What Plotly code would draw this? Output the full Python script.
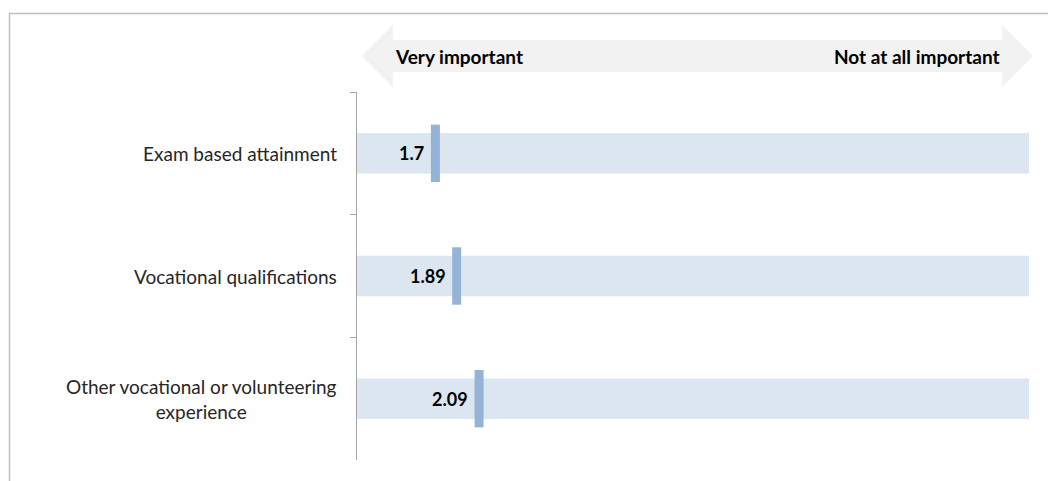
import plotly.graph_objects as go

# Data
categories = ['Exam based attainment', 'Vocational qualifications',
              'Other vocational or volunteering experience']
category_labels = ['Exam based attainment', 'Vocational qualifications',
                   'Other vocational or volunteering<br>experience']
mean_scores = [1.7, 1.89, 2.09]
score_labels = ['1.7', '1.89', '2.09']
scale_min = 1
scale_max = 7
scale_ends = ['Very important', 'Not at all important']

# Layout in pixels (page body has an 8px margin, so screen px = figure px + 8)
OFF = 8
W, H = 1048, 473
L, R, T, B = 357 - OFF, 27, 92 - OFF, 21
FONT = 'Lato'
BAR_COLOR = '#DCE6F1'
MARK_COLOR = '#95B3D7'


def px_x(px):
    # screen pixel -> paper x
    return (px - OFF - L) / (W - L - R)


def px_y(py):
    # screen pixel -> paper y
    return (H - B - (py - OFF)) / (H - T - B)


fig = go.Figure()

# full-length background bars
fig.add_trace(go.Bar(
    y=categories,
    x=[scale_max - scale_min] * len(categories),
    base=scale_min,
    orientation='h',
    width=0.33,
    marker=dict(color=BAR_COLOR, line=dict(width=0)),
    hoverinfo='skip',
    showlegend=False,
))

# mean score markers
fig.add_trace(go.Scatter(
    x=mean_scores,
    y=categories,
    mode='markers',
    marker=dict(symbol='line-ns', size=41, color=MARK_COLOR,
                line=dict(color=MARK_COLOR, width=9)),
    showlegend=False,
))

annotations = []
for cat, val, lab in zip(categories, mean_scores, score_labels):
    annotations.append(dict(
        x=val, y=cat, xref='x', yref='y', text='<b>%s</b>' % lab,
        showarrow=False, xanchor='right', yanchor='middle', xshift=-9,
        font=dict(family=FONT, size=18, color='#000000'),
    ))
for cat, lab in zip(categories, category_labels):
    annotations.append(dict(
        x=0, y=cat, xref='paper', yref='y', text=lab, align='center',
        showarrow=False, xanchor='right', yanchor='middle', xshift=-18,
        font=dict(family=FONT, size=19, color='#262626'),
    ))

# arrow texts
annotations.append(dict(
    x=px_x(393), y=px_y(56), xref='paper', yref='paper', text='<b>%s</b>' % scale_ends[0],
    showarrow=False, xanchor='left', yanchor='middle',
    font=dict(family=FONT, size=19, color='#000000'),
))
annotations.append(dict(
    x=px_x(1002), y=px_y(56), xref='paper', yref='paper', text='<b>%s</b>' % scale_ends[1],
    showarrow=False, xanchor='right', yanchor='middle',
    font=dict(family=FONT, size=19, color='#000000'),
))

# double-headed arrow
pts = [(362, 56), (393, 25), (393, 40), (1002, 40), (1002, 25), (1033, 56),
       (1002, 87), (1002, 72), (393, 72), (393, 87)]
path = 'M ' + ' L '.join('%.5f,%.5f' % (px_x(a), px_y(b)) for a, b in pts) + ' Z'
shapes = [
    dict(type='path', xref='paper', yref='paper', path=path,
         fillcolor='#F2F2F2', line=dict(width=0), layer='below'),
    # outer border (top and left)
    dict(type='path', xref='paper', yref='paper',
         path='M %.5f,%.5f L %.5f,%.5f L %.5f,%.5f' % (
             px_x(9.5), px_y(490), px_x(9.5), px_y(13.5), px_x(1060), px_y(13.5)),
         line=dict(color='#BFBFBF', width=1.5)),
]

fig.update_layout(
    width=W, height=H,
    margin=dict(l=L, r=R, t=T, b=B),
    plot_bgcolor='white', paper_bgcolor='white',
    barmode='overlay',
    xaxis=dict(range=[scale_min, scale_max], visible=False, fixedrange=True),
    yaxis=dict(autorange='reversed', showticklabels=False, showgrid=False,
               zeroline=False, showline=True, linecolor='#A6A6A6', linewidth=1,
               ticks='outside', tickson='boundaries', ticklen=6,
               tickcolor='#A6A6A6', tickwidth=1, range=[2.5, -0.5]),
    annotations=annotations,
    shapes=shapes,
    showlegend=False,
)

fig.write_html('out.html')
